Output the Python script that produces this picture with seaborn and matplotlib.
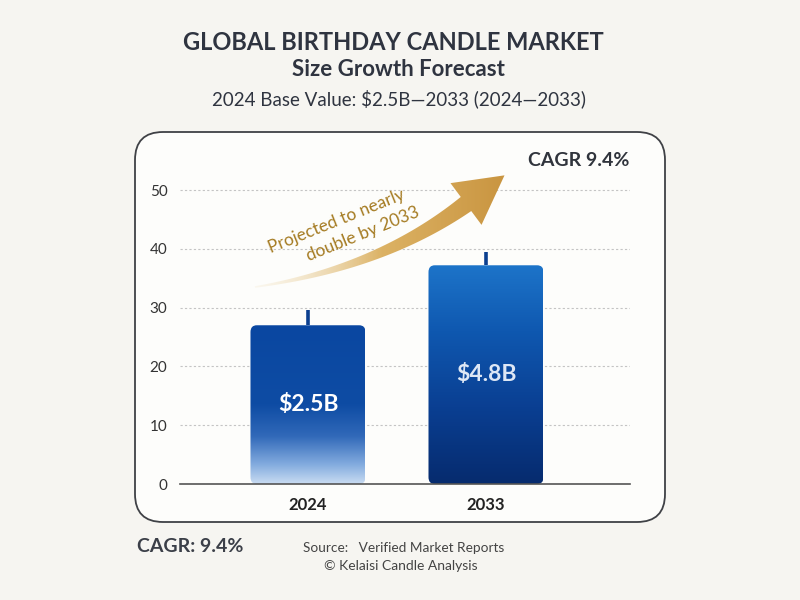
import numpy as np
import pandas as pd
import matplotlib
matplotlib.use("Agg")
import matplotlib.pyplot as plt
import seaborn as sns
from matplotlib.patches import FancyBboxPatch, Polygon
from matplotlib.colors import LinearSegmentedColormap, to_rgba

# data
years = ['2024', '2033']
bar_heights = [27.0, 37.2]
wick_tops = [29.6, 39.5]
bar_labels = ['$2.5B', '$4.8B']
y_ticks = [0, 10, 20, 30, 40, 50]

sns.set_theme(style="white")
plt.rcParams['font.family'] = ['Lato', 'DejaVu Sans']

BG = '#f6f5f1'
TXT = '#30343c'

fig = plt.figure(figsize=(8, 6), dpi=100, facecolor=BG)

# background layer: rounded card (pixel coords)
bg = fig.add_axes([0, 0, 1, 1], zorder=0)
bg.set_xlim(0, 800)
bg.set_ylim(600, 0)
bg.axis('off')
card = FancyBboxPatch((135, 132), 530, 390,
                      boxstyle="round,pad=0,rounding_size=28",
                      facecolor='#fdfdfb', edgecolor='#3f4146', linewidth=1.3)
bg.add_patch(card)

# main chart
ax = fig.add_axes([0.225, 0.1933, 0.5625, 0.539], zorder=1)
ax.set_facecolor('none')
df = pd.DataFrame({'year': years, 'value': bar_heights})
sns.barplot(data=df, x='year', y='value', width=0.646, color='#0d4ba3', ax=ax)

xlim = (-0.719, 1.809)
ylim = (0, 55)

cmaps = [
    LinearSegmentedColormap.from_list('b24', [(0, '#c9dcf2'), (0.12, '#84acdf'),
                                               (0.3, '#3169b9'), (0.5, '#0e4ca4'),
                                               (1, '#0a47a1')]),
    LinearSegmentedColormap.from_list('b33', [(0, '#062b6e'), (0.35, '#0a3f92'),
                                               (0.7, '#0f58b0'), (1, '#1d74c9')]),
]
grad = np.linspace(0, 1, 256).reshape(-1, 1)
for p, cm in zip(ax.patches, cmaps):
    x0, w, h = p.get_x(), p.get_width(), p.get_height()
    p.set_visible(False)
    clip = FancyBboxPatch((x0, 0), w, h, boxstyle="round,pad=0,rounding_size=0.035",
                          mutation_aspect=33, facecolor='none', edgecolor='none',
                          transform=ax.transData)
    ax.add_patch(clip)
    im = ax.imshow(grad, cmap=cm, origin='lower', aspect='auto',
                   extent=[x0, x0 + w, 0, h], zorder=2)
    im.set_clip_path(clip)

# candle wicks
ax.vlines(range(len(years)), bar_heights, wick_tops, color='#0b3f8f', linewidth=2.6, zorder=3)

# value labels
for i, (h, lab) in enumerate(zip(bar_heights, bar_labels)):
    ax.text(i, h * 0.5, lab, ha='center', va='center', fontsize=16.5, fontweight='bold',
            color='white' if i == 0 else '#dde7f5', zorder=4)

ax.set_xlim(*xlim)
ax.set_ylim(*ylim)
ax.set_yticks(y_ticks)
ax.set_yticklabels([str(t) for t in y_ticks])
ax.yaxis.grid(True, color='#c4c4c4', linestyle=(0, (2, 2)), linewidth=0.8)
ax.set_axisbelow(True)
ax.tick_params(axis='y', length=0, pad=9, labelsize=11, labelcolor='#333333')
ax.tick_params(axis='x', length=0, pad=9, labelsize=12, labelcolor='#222222')
for lab in ax.get_xticklabels():
    lab.set_fontweight('bold')
ax.set_xlabel('')
ax.set_ylabel('')
for s in ['top', 'right', 'left']:
    ax.spines[s].set_visible(False)
ax.spines['bottom'].set_color('#555555')
ax.spines['bottom'].set_linewidth(1.2)

# front layer: growth arrow (pixel coords)
fg = fig.add_axes([0, 0, 1, 1], zorder=3)
fg.set_xlim(0, 800)
fg.set_ylim(600, 0)
fg.axis('off')
fg.patch.set_visible(False)

P0, P1, P2 = np.array([255., 287.]), np.array([380., 268.]), np.array([466., 204.])
t = np.linspace(0, 1, 80)[:, None]
pts = (1 - t) ** 2 * P0 + 2 * (1 - t) * t * P1 + t ** 2 * P2
tan = 2 * (1 - t) * (P1 - P0) + 2 * t * (P2 - P1)
tan = tan / np.linalg.norm(tan, axis=1, keepdims=True)
nrm = np.column_stack([-tan[:, 1], tan[:, 0]])
hw = (0.8 + 8 * t[:, 0] ** 1.1)[:, None]
left = pts + nrm * hw
right = pts - nrm * hw
d_end, n_end = tan[-1], nrm[-1]
tip = P2 + d_end * 48
head = [P2 + n_end * 26, tip, P2 - n_end * 26]
poly = np.vstack([left, head, right[::-1]])
arrow_clip = Polygon(poly, closed=True, facecolor='none', edgecolor='none')
fg.add_patch(arrow_clip)
c0, c1, c2 = np.array(to_rgba('#f6ebd2')), np.array(to_rgba('#dcb264')), np.array(to_rgba('#c8933e'))
xs = np.linspace(0, 1, 200)
cols = np.array([c0 + (c1 - c0) * (v / 0.5) if v < 0.5 else c1 + (c2 - c1) * ((v - 0.5) / 0.5) for v in xs])
cols[:, 3] = np.clip(0.25 + xs * 1.5, 0, 1)
im = fg.imshow(cols[None, :, :], extent=[250, 514, 292, 166], aspect='auto', zorder=2)
im.set_clip_path(arrow_clip)
fg.set_xlim(0, 800)
fg.set_ylim(600, 0)

fg.text(337, 221, 'Projected to nearly', rotation=22, ha='center', va='center',
        rotation_mode='anchor', fontsize=12.5, color='#a57b22')
fg.text(363, 234, 'double by 2033', rotation=22, ha='center', va='center',
        rotation_mode='anchor', fontsize=12.5, color='#a57b22')

fg.text(629, 160, 'CAGR 9.4%', ha='right', va='center', fontsize=14, fontweight='bold', color=TXT)

# titles
fg.text(393, 43, 'GLOBAL BIRTHDAY CANDLE MARKET', ha='center', va='center',
        fontsize=17, fontweight='bold', color='#2f3440')
fg.text(398, 70, 'Size Growth Forecast', ha='center', va='center',
        fontsize=16, fontweight='bold', color='#2f3440')
fg.text(399, 99, '2024 Base Value: $2.5B\u20142033 (2024\u20142033)', ha='center', va='center',
        fontsize=13.5, color='#2f3440')

# footer
fg.text(137, 547, 'CAGR: 9.4%', ha='left', va='center', fontsize=14, fontweight='bold', color='#3b3f48')
fg.text(303, 548, 'Source:   Verified Market Reports', ha='left', va='center', fontsize=9.8, color='#444444')
fg.text(324, 566, '\u00a9 Kelaisi Candle Analysis', ha='left', va='center', fontsize=10, color='#444444')

plt.savefig('out.png', dpi=100, facecolor=BG)
